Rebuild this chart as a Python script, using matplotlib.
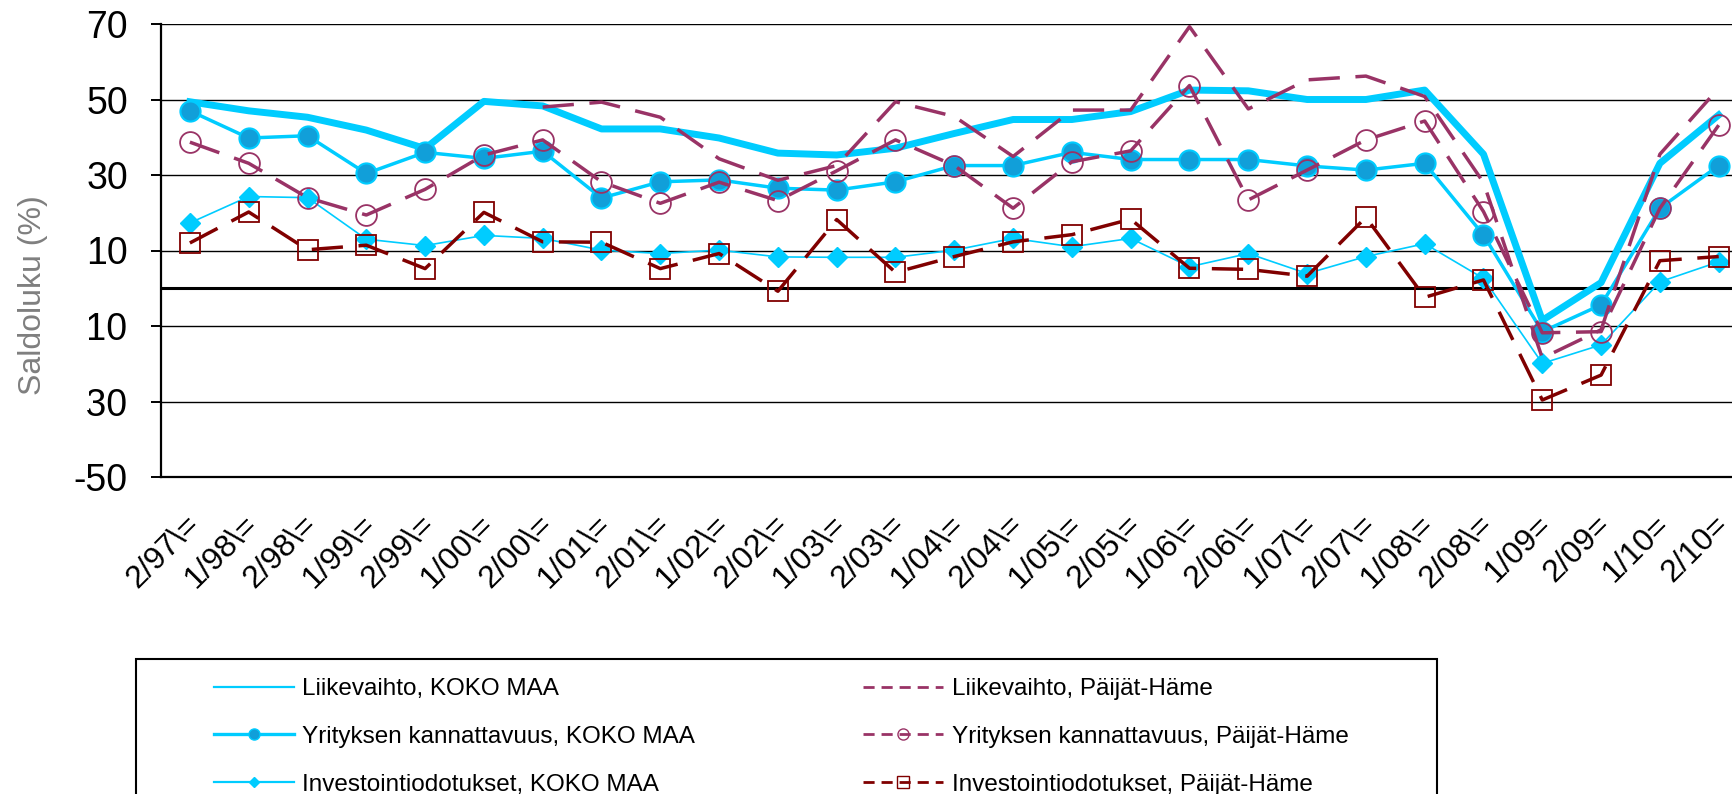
import matplotlib
matplotlib.use("Agg")
import matplotlib.pyplot as plt
import matplotlib.transforms as mtransforms
from matplotlib.lines import Line2D
from matplotlib.patches import Rectangle
import numpy as np

plt.rcParams['font.family'] = ['Liberation Sans', 'DejaVu Sans']

# --- data ---
periods = ["2/97\\=", "1/98\\=", "2/98\\=", "1/99\\=", "2/99\\=", "1/00\\=", "2/00\\=",
           "1/01\\=", "2/01\\=", "1/02\\=", "2/02\\=", "1/03\\=", "2/03\\=", "1/04\\=",
           "2/04\\=", "1/05\\=", "2/05\\=", "1/06\\=", "2/06\\=", "1/07\\=", "2/07\\=",
           "1/08\\=", "2/08\\=", "1/09=", "2/09=", "1/10=", "2/10="]

liikevaihto_koko = [49.4, 47.0, 45.3, 41.9, 37.0, 49.5, 48.3, 42.2, 42.2, 39.8, 35.8, 35.3, 37.1, 41.0,
                    44.7, 44.7, 46.8, 52.5, 52.3, 50.0, 50.0, 52.5, 35.5, -8.5, 1.5, 33.1, 45.9]
kannattavuus_koko = [47.0, 39.8, 40.4, 30.4, 36.0, 34.4, 36.3, 23.9, 28.2, 28.7, 26.5, 26.0, 28.2, 32.5,
                     32.5, 36.0, 34.1, 34.1, 34.1, 32.4, 31.3, 33.1, 14.1, -11.5, -4.4, 21.2, 32.5]
investointi_koko = [17.3, 24.3, 24.0, 13.0, 11.3, 14.0, 13.2, 10.1, 9.2, 10.1, 8.3, 8.2, 8.2, 10.1,
                    13.2, 11.0, 13.2, 5.7, 9.2, 3.9, 8.4, 11.8, 2.6, -19.9, -15.0, 1.7, 7.0]
liikevaihto_ph = [None, None, None, None, None, None, 48.0, 49.3, 45.3, 34.3, 28.6, 32.5, 49.4, 45.5,
                  34.9, 47.2, 47.2, 69.3, 47.5, 55.2, 56.2, 50.8, 28.0, -18.5, -11.0, 35.5, 53.0]
kannattavuus_ph = [38.7, 33.1, 24.0, 19.4, 26.2, 35.3, 39.3, 28.2, 22.5, 28.1, 23.2, 31.1, 39.3, 32.5,
                   21.2, 33.5, 36.4, 53.7, 23.4, 31.3, 39.3, 44.3, 20.3, -11.8, -11.5, 21.2, 43.2]
investointi_ph = [12.0, 20.2, 10.2, 11.4, 5.2, 20.1, 12.3, 12.2, 5.2, 9.2, -0.8, 18.2, 4.2, 8.4,
                  12.3, 14.2, 18.3, 5.3, 5.0, 3.2, 18.8, -2.4, 2.2, -29.6, -23.0, 7.3, 8.4]

series_labels = ["Liikevaihto, KOKO MAA", "Yrityksen kannattavuus, KOKO MAA",
                 "Investointiodotukset, KOKO MAA", "Liikevaihto, Päijät-Häme",
                 "Yrityksen kannattavuus, Päijät-Häme", "Investointiodotukset, Päijät-Häme"]

yticks = [-50, -30, -10, 10, 30, 50, 70]
ytick_labels = ["-50", "-30", "-10", "10", "30", "50", "70"]

CYAN = "#00CCFF"
BLUE = "#119FD9"
PURPLE = "#993366"
DARKRED = "#800000"

W, H = 1732, 794
fig = plt.figure(figsize=(W / 100, H / 100), dpi=100)
ax = fig.add_axes([160.5 / W, (H - 477) / H, 1587.6 / W, 453 / H])

x = np.arange(len(periods))

def arr(v):
    return np.array([np.nan if a is None else a for a in v], dtype=float)

ax.plot(x, arr(liikevaihto_koko), color=CYAN, lw=5.0, solid_joinstyle='round', zorder=3)
ax.plot(x, arr(kannattavuus_koko), color=CYAN, lw=2.5, marker='o', ms=14.5,
        mfc=BLUE, mec=CYAN, mew=1.5, zorder=4)
ax.plot(x, arr(investointi_koko), color=CYAN, lw=1.2, marker='D', ms=10,
        mfc=CYAN, mec=CYAN, zorder=4)
ax.plot(x, arr(liikevaihto_ph), color=PURPLE, lw=2.5, dashes=(9, 4.5), zorder=5)
ax.plot(x, arr(kannattavuus_ph), color=PURPLE, lw=2.5, dashes=(9, 4.5), marker='o', ms=15,
        mfc='none', mec=PURPLE, mew=1.3, zorder=5)
ax.plot(x, arr(investointi_ph), color=DARKRED, lw=2.5, dashes=(9, 4.5), marker='s', ms=14.5,
        mfc='none', mec=DARKRED, mew=1.3, zorder=5)

ax.set_xlim(-0.5, len(periods) - 0.5)
ax.set_ylim(-50, 70)
ax.axhline(0, color='black', lw=2.2, zorder=2)

ax.set_yticks(yticks)
ax.set_yticklabels(ytick_labels, fontsize=27)
ax.yaxis.grid(True, color='black', lw=1.0, zorder=1)
ax.set_axisbelow(True)
ax.tick_params(axis='y', direction='out', length=7.5, width=1.4, pad=16)

ax.set_xticks(x)
ax.set_xticklabels(periods, fontsize=23, rotation=45, ha='right', va='center',
                   rotation_mode='anchor')
ax.tick_params(axis='x', length=0, pad=31)
offset = mtransforms.ScaledTranslation(5 / 100, 0, fig.dpi_scale_trans)
for lbl in ax.get_xticklabels():
    lbl.set_transform(lbl.get_transform() + offset)

for side in ['top', 'right']:
    ax.spines[side].set_visible(False)
ax.spines['left'].set_linewidth(1.6)
ax.spines['bottom'].set_linewidth(1.6)

# y label box (it hides the minus signs of -10 and -30 in the original)
fig.patches.append(Rectangle((5 / W, 1 - 410 / H), 84 / W, 225 / H, transform=fig.transFigure,
                             facecolor='white', edgecolor='none', zorder=10))
fig.text(33 / W, 1 - 295 / H, "Saldoluku (%)", rotation=90, ha='center', va='center',
         fontsize=23, color='#7f7f7f', zorder=11)

# legend
handles = [
    Line2D([], [], color=CYAN, lw=1.6),
    Line2D([], [], color=CYAN, lw=2.4, marker='o', ms=8, mfc=BLUE, mec=CYAN),
    Line2D([], [], color=CYAN, lw=1.6, marker='D', ms=5, mfc=CYAN, mec=CYAN),
    Line2D([], [], color=PURPLE, lw=2, dashes=(4, 2.5)),
    Line2D([], [], color=PURPLE, lw=2, dashes=(4, 2.5), marker='o', ms=8, mfc='none', mec=PURPLE),
    Line2D([], [], color=DARKRED, lw=2, dashes=(4, 2.5), marker='s', ms=8, mfc='none', mec=DARKRED),
]
fig.patches.append(Rectangle((136 / W, -0.05), 1301 / W, 1 - 659 / H + 0.05, transform=fig.transFigure,
                             facecolor='white', edgecolor='black', lw=1.5, zorder=0))
fig.legend(handles, series_labels, loc='upper left', bbox_to_anchor=(214 / W, 1 - 678 / H),
           ncol=2, frameon=False, fontsize=17.5, borderpad=0, borderaxespad=0,
           handlelength=3.3, handletextpad=0.34, columnspacing=6.9, labelspacing=1.06)

fig.savefig("out.png", dpi=100)
